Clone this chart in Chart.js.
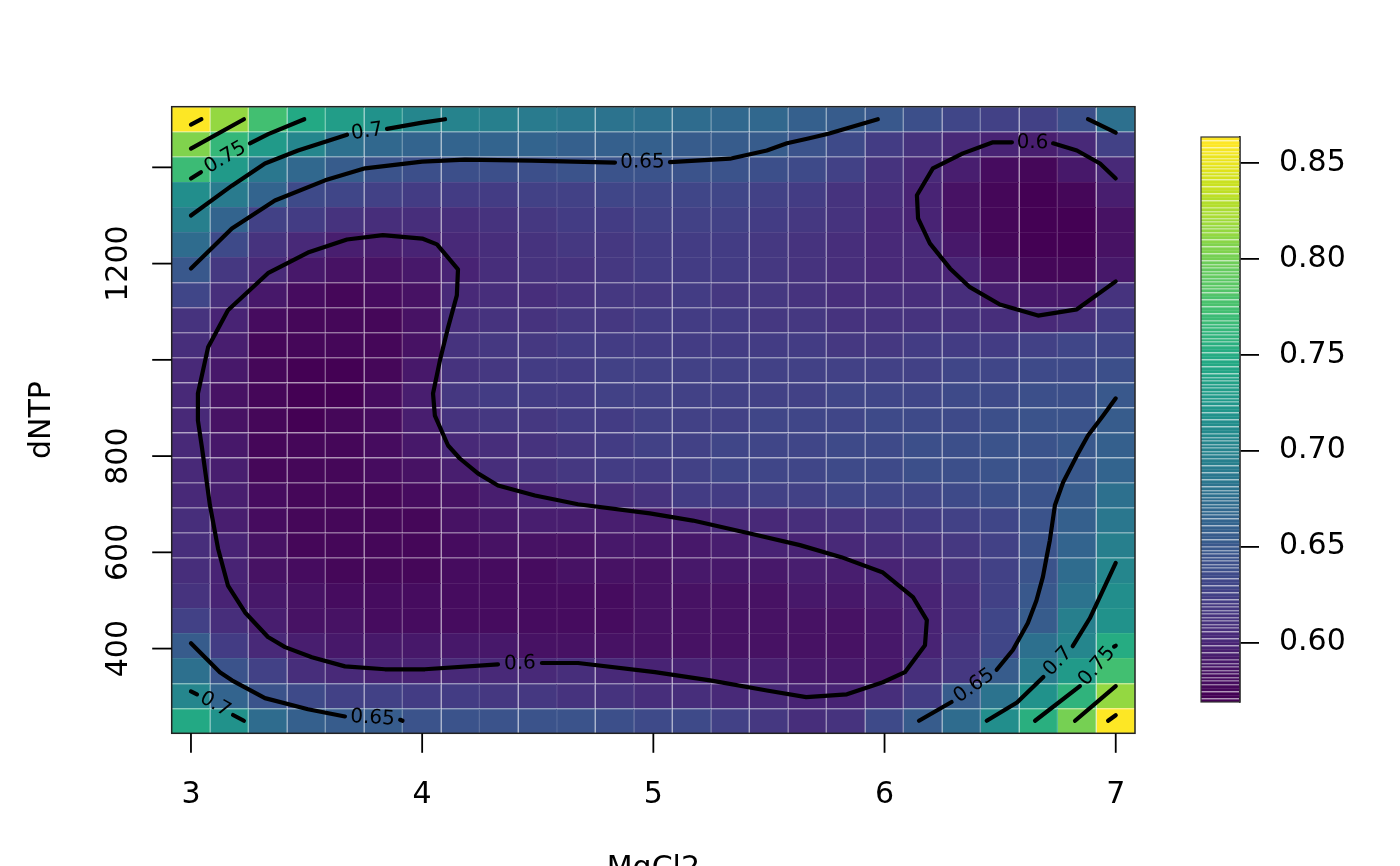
<!DOCTYPE html>
<html><head><meta charset="utf-8">
<script src="https://cdn.jsdelivr.net/npm/chart.js@4.4.1/dist/chart.umd.min.js"></script>
<style>
html,body{margin:0;padding:0;background:#fff;}
#wrap{position:relative;width:1400px;height:866px;overflow:hidden;background:#fff;}
#main{position:absolute;left:0;top:0;width:1400px;height:866px;}
#cb{position:absolute;left:1190px;top:0;width:210px;height:866px;}
</style></head><body>
<div id="wrap"><canvas id="main" width="1400" height="866"></canvas><canvas id="cb" width="210" height="866"></canvas></div>
<script>
// ---------------- data ----------------
const mgcl2 = [3, 3.1667, 3.3333, 3.5, 3.6667, 3.8333, 4, 4.1667, 4.3333, 4.5, 4.6667, 4.8333, 5,
  5.1667, 5.3333, 5.5, 5.6667, 5.8333, 6, 6.1667, 6.3333, 6.5, 6.6667, 6.8333, 7];
const dntp = [250, 302.08, 354.17, 406.25, 458.33, 510.42, 562.5, 614.58, 666.67, 718.75, 770.83, 822.92,
  875, 927.08, 979.17, 1031.25, 1083.33, 1135.42, 1187.5, 1239.58, 1291.67, 1343.75, 1395.83, 1447.92, 1500];
// response[j][i] : dntp[j], mgcl2[i]
const response = [
 [.748,.718,.671,.661,.6552,.652,.647,.646,.645,.644,.643,.641,.638,.634,.628,.619,.6095,.614,.634,.653,.672,.715,.754,.803,.8635],
 [.705,.662,.647,.638,.628,.627,.624,.621,.619,.617,.615,.613,.6095,.608,.6048,.6019,.5995,.6006,.6098,.620,.652,.681,.720,.760,.816],
 [.678,.645,.625,.610,.6023,.6009,.6009,.6025,.6044,.6053,.6063,.6024,.5995,.597,.595,.593,.591,.592,.592,.607,.619,.655,.689,.730,.776],
 [.652,.620,.604,.594,.590,.588,.588,.588,.588,.587,.586,.585,.586,.585,.584,.584,.585,.586,.588,.5995,.612,.632,.678,.703,.7515],
 [.627,.610,.593,.586,.583,.582,.582,.582,.582,.582,.582,.582,.583,.583,.583,.584,.585,.586,.590,.5996,.610,.632,.656,.694,.720],
 [.615,.6005,.590,.583,.580,.579,.579,.579,.580,.580,.581,.582,.583,.584,.585,.587,.588,.591,.5957,.601,.610,.6255,.6505,.6805,.713],
 [.609,.5985,.586,.580,.578,.577,.578,.579,.581,.582,.584,.585,.586,.588,.589,.591,.5924,.5964,.6004,.605,.613,.625,.647,.671,.7025],
 [.607,.597,.583,.577,.576,.576,.578,.580,.583,.585,.587,.589,.591,.592,.5925,.5984,.6004,.6036,.608,.613,.619,.628,.646,.6614,.695],
 [.606,.5953,.582,.578,.577,.578,.578,.583,.588,.594,.594,.595,.596,.5996,.604,.605,.608,.612,.617,.622,.627,.633,.645,.6593,.687],
 [.605,.5941,.579,.576,.576,.578,.580,.587,.594,.6001,.6032,.6066,.6127,.620,.623,.625,.627,.629,.631,.633,.636,.640,.645,.655,.679],
 [.604,.5929,.578,.575,.575,.579,.585,.5948,.6089,.613,.617,.621,.624,.627,.629,.631,.633,.635,.637,.639,.641,.643,.647,.6514,.665],
 [.6035,.591,.577,.574,.575,.580,.590,.6052,.610,.615,.619,.622,.625,.627,.629,.631,.633,.635,.637,.640,.642,.645,.647,.649,.657],
 [.603,.5863,.576,.573,.574,.580,.593,.6114,.616,.619,.622,.624,.626,.627,.628,.629,.630,.632,.634,.636,.638,.641,.644,.645,.654],
 [.603,.5863,.576,.573,.573,.579,.594,.6155,.620,.622,.624,.625,.626,.627,.628,.628,.628,.629,.631,.633,.635,.637,.639,.642,.6495],
 [.604,.5911,.577,.573,.573,.578,.591,.613,.619,.622,.624,.625,.626,.627,.627,.626,.625,.625,.626,.628,.630,.632,.634,.637,.640],
 [.607,.5921,.578,.574,.574,.577,.586,.611,.616,.618,.620,.622,.623,.624,.623,.622,.620,.619,.619,.620,.622,.624,.625,.630,.633],
 [.614,.597,.581,.576,.576,.578,.583,.6066,.611,.614,.617,.619,.621,.622,.621,.619,.616,.614,.613,.612,.612,.608,.603,.608,.622],
 [.630,.607,.5886,.579,.578,.579,.585,.6015,.606,.610,.614,.617,.619,.620,.619,.616,.612,.609,.607,.606,.606,.5957,.590,.589,.611],
 [.648,.617,.602,.588,.583,.584,.589,.6008,.606,.611,.615,.618,.620,.621,.620,.617,.613,.608,.604,.6035,.598,.583,.575,.574,.591],
 [.672,.634,.612,.605,.595,.594,.598,.603,.607,.612,.616,.619,.621,.622,.621,.618,.614,.609,.6045,.603,.588,.578,.571,.570,.585],
 [.6965,.662,.628,.623,.612,.609,.608,.609,.612,.616,.620,.623,.625,.626,.625,.622,.617,.611,.6055,.5985,.583,.574,.569,.571,.584],
 [.714,.690,.664,.636,.629,.627,.623,.622,.623,.625,.627,.629,.630,.630,.629,.626,.621,.614,.6075,.5986,.585,.576,.571,.574,.594],
 [.767,.728,.686,.670,.654,.6465,.641,.640,.641,.6426,.6438,.6458,.6462,.6463,.6463,.642,.636,.626,.613,.602,.593,.582,.578,.589,.603],
 [.805,.765,.729,.703,.677,.667,.665,.664,.663,.662,.661,.659,.658,.656,.654,.652,.645,.635,.622,.612,.604,.597,.596,.604,.627],
 [.862,.816,.774,.748,.733,.718,.7034,.698,.694,.690,.686,.682,.678,.674,.670,.666,.661,.656,.649,.640,.633,.628,.628,.640,.675]
];
const xTicks = [3, 4, 5, 6, 7];
const yTicks = [400, 600, 800, 1000, 1200, 1400];
const yTickLabelled = [400, 600, 800, 1200];
const legendTicks = [0.60, 0.65, 0.70, 0.75, 0.80, 0.85];

// contour lines, [MgCl2, dNTP]
const c85_tl = [[3.0,1489],[3.045,1500]];
const c85_br = [[6.967,250],[7.0,261.5]];
const c80_tl = [[3.0,1439],[3.229,1500]];
const c80_br = [[6.824,250],[7.0,322]];
const c75_tl_a = [[3.0,1377],[3.043,1390]];
const c75_tl_b = [[3.255,1450],[3.334,1469],[3.490,1500]];
const c75_br_a = [[6.651,250],[6.845,322]];
const c75_br_b = [[6.993,404],[7.0,406]];
const c70_tl_a = [[3.0,1300],[3.177,1362],[3.320,1408],[3.463,1435],[3.675,1468]];
const c70_tl_b = [[3.848,1480],[4.0,1493],[4.099,1500]];
const c70_bl_a = [[3.0,311],[3.026,305]];
const c70_bl_b = [[3.182,262],[3.229,250]];
const c70_br_a = [[6.442,250],[6.573,288],[6.687,341]];
const c70_br_b = [[6.814,405],[6.888,463],[7.0,578]];
const c65_top_a = [[3.0,1190],[3.177,1273],[3.363,1331],[3.580,1373],[3.753,1398],[4.0,1412],[4.185,1416],[4.475,1414],[4.834,1410]];
const c65_top_b = [[5.072,1411],[5.331,1418],[5.491,1435],[5.578,1450],[5.670,1460],[5.757,1470],[5.971,1500]];
const c65_tr = [[6.880,1500],[7.0,1472]];
const c65_bl_a = [[3.0,411],[3.125,351],[3.177,334],[3.320,297],[3.506,274],[3.666,259]];
const c65_bl_b = [[3.905,252],[3.915,250]];
const c65_br_a = [[6.149,250],[6.290,289]];
const c65_br_b = [[6.485,356],[6.555,397],[6.620,453],[6.657,500],[6.685,549],[6.701,590],[6.715,625],[6.737,698],[6.772,745],[6.832,801],[6.880,843],[6.945,884],[7.0,920]];
const c60_left = [[4.518,370],[4.674,370],[5.007,351],[5.245,334],[5.491,313],[5.661,299],[5.837,305],[5.993,330],[6.088,351],[6.175,407],[6.183,459],[6.123,507],[5.993,558],[5.813,590],[5.634,615],[5.418,639],[5.171,666],[4.985,681],[4.674,700],[4.488,718],[4.328,739],[4.241,764],[4.163,795],[4.112,822],[4.055,884],[4.047,930],[4.077,999],[4.112,1067],[4.150,1134],[4.155,1188],[4.064,1240],[4.0,1252],[3.830,1259],[3.675,1250],[3.506,1223],[3.333,1180],[3.160,1103],[3.074,1026],[3.030,930],[3.030,874],[3.048,816],[3.082,698],[3.117,608],[3.160,531],[3.234,475],[3.333,424],[3.407,403],[3.523,382],[3.666,363],[3.839,357],[4.012,357],[4.328,367]];
const c60_right_a = [[7.0,1377],[6.932,1408],[6.832,1435],[6.729,1450]];
const c60_right_b = [[6.551,1452],[6.469,1452],[6.339,1429],[6.209,1398],[6.140,1342],[6.145,1294],[6.196,1242],[6.283,1190],[6.369,1151],[6.499,1115],[6.664,1092],[6.832,1105],[7.0,1163]];

const contourPieces = [c85_tl,c85_br,c80_tl,c80_br,c75_tl_a,c75_tl_b,c75_br_a,c75_br_b,c70_tl_a,c70_tl_b,c70_bl_a,c70_bl_b,
  c70_br_a,c70_br_b,c65_top_a,c65_top_b,c65_tr,c65_bl_a,c65_bl_b,c65_br_a,c65_br_b,c60_left,c60_right_a,c60_right_b];
// contour labels sit in the gap between the end of one piece and the start of the next
const contourLabels = [
  {level:0.75, from:c75_tl_a, to:c75_tl_b}, {level:0.7, from:c70_tl_a, to:c70_tl_b},
  {level:0.65, from:c65_top_a, to:c65_top_b}, {level:0.6, from:c60_right_a, to:c60_right_b},
  {level:0.6, from:c60_left, to:c60_left}, {level:0.65, from:c65_bl_a, to:c65_bl_b},
  {level:0.7, from:c70_bl_a, to:c70_bl_b}, {level:0.65, from:c65_br_a, to:c65_br_b},
  {level:0.7, from:c70_br_a, to:c70_br_b}, {level:0.75, from:c75_br_a, to:c75_br_b}
];

// ---------------- styling helpers ----------------
const FONT = '"DejaVu Sans", sans-serif';
const VIR_T = [0,0.05,0.1,0.125,0.1667,0.2,0.25,0.3,0.3333,0.375,0.4,0.5,0.6,0.625,0.6667,0.7,0.75,0.8,0.8333,0.875,0.9,0.95,1];
const VIR_C = ['#440154','#471365','#482576','#472D7B','#443A83','#414487','#3B528B','#35608D','#31688E','#2C728E','#2A788E','#21908C','#22A884','#27AD81','#35B779','#43BF71','#5DC863','#7AD151','#8FD744','#AADC32','#BBDF27','#DFE318','#FDE725'];
const hex2rgb = h => [parseInt(h.slice(1,3),16),parseInt(h.slice(3,5),16),parseInt(h.slice(5,7),16)];
const VIR_RGB = VIR_C.map(hex2rgb);
function viridis(t){
  t = Math.max(0, Math.min(1, t));
  let k = 0; while (k < VIR_T.length-2 && t > VIR_T[k+1]) k++;
  const f = (t - VIR_T[k])/(VIR_T[k+1]-VIR_T[k]);
  const a = VIR_RGB[k], b = VIR_RGB[k+1];
  return a.map((v,i)=>Math.round(v + (b[i]-v)*f));
}
const allZ = response.flat();
const zmin = Math.min(...allZ), zmax = Math.max(...allZ);
const NCOL = 64;
function zRGB(z){ const idx = Math.min(NCOL-1, Math.max(0, Math.floor((z-zmin)/(zmax-zmin)*NCOL))); return viridis(idx/(NCOL-1)); }
const rgbStr = c => `rgb(${c[0]},${c[1]},${c[2]})`;
const seam = (c,f) => rgbStr(c.map(v=>Math.round(v + (255-v)*f)));
function edges(v){ const e=[]; for(let i=0;i<=v.length;i++){ if(i===0) e.push(v[0]-(v[1]-v[0])/2); else if(i===v.length) e.push(v[i-1]+(v[i-1]-v[i-2])/2); else e.push((v[i-1]+v[i])/2);} return e; }
const xE = edges(mgcl2), yE = edges(dntp);

// ---------------- main chart ----------------
const heatSets = dntp.map((y,j)=>({
  type:'bar', order:2, grouped:false, barPercentage:1, categoryPercentage:1,
  data: mgcl2.map(x=>({x:x, y:[yE[j], yE[j+1]]})),
  backgroundColor: response[j].map(z=>rgbStr(zRGB(z))),
  borderColor: response[j].map(z=>seam(zRGB(z),0.08)),
  borderWidth:{top:1,right:1,bottom:0,left:0}, borderSkipped:false, inflateAmount:0
}));
const lineSets = contourPieces.map(p=>({
  type:'line', order:1, data:p.map(([x,y])=>({x,y})), borderColor:'#000', borderWidth:4.2,
  pointRadius:0, tension:0, fill:false, borderCapStyle:'round', borderJoinStyle:'round'
}));

const decor = {
  id:'decor',
  afterDatasetsDraw(chart){
    const {ctx, chartArea:a, scales:{x, y}} = chart;
    ctx.save();
    // contour labels
    ctx.fillStyle = '#000'; ctx.font = '20px ' + FONT; ctx.textAlign='center'; ctx.textBaseline='middle';
    contourLabels.forEach(l=>{
      const A = l.from[l.from.length-1], B = l.to[0];
      const ax = x.getPixelForValue(A[0]), ay = y.getPixelForValue(A[1]);
      const bx = x.getPixelForValue(B[0]), by = y.getPixelForValue(B[1]);
      let ang = Math.atan2(by-ay, bx-ax);
      if (ang > Math.PI/2) ang -= Math.PI; if (ang < -Math.PI/2) ang += Math.PI;
      ctx.save(); ctx.translate((ax+bx)/2, (ay+by)/2); ctx.rotate(ang);
      ctx.fillText(String(l.level), 0, 0); ctx.restore();
    });
    // box
    ctx.strokeStyle='#222'; ctx.lineWidth=1.5;
    ctx.strokeRect(a.left, a.top, a.right-a.left, a.bottom-a.top);
    // x axis
    ctx.strokeStyle='#000'; ctx.lineWidth=1.8; ctx.fillStyle='#000';
    ctx.font = '30px ' + FONT; ctx.textAlign='center'; ctx.textBaseline='alphabetic';
    xTicks.forEach(v=>{
      const px = x.getPixelForValue(v);
      ctx.beginPath(); ctx.moveTo(px, a.bottom); ctx.lineTo(px, a.bottom+19.5); ctx.stroke();
      ctx.fillText(String(v), px, a.bottom+69.5);
    });
    ctx.fillText('MgCl2', (a.left+a.right)/2, a.bottom+144);
    // y axis
    yTicks.forEach(v=>{
      const py = y.getPixelForValue(v);
      ctx.beginPath(); ctx.moveTo(a.left-19.5, py); ctx.lineTo(a.left, py); ctx.stroke();
      if (yTickLabelled.includes(v)) {
        ctx.save(); ctx.translate(a.left-45, py); ctx.rotate(-Math.PI/2);
        ctx.fillText(String(v), 0, 0); ctx.restore();
      }
    });
    ctx.save(); ctx.translate(50, (a.top+a.bottom)/2); ctx.rotate(-Math.PI/2);
    ctx.fillText('dNTP', 0, 0); ctx.restore();
    ctx.restore();
  }
};

new Chart(document.getElementById('main'), {
  type:'bar',
  data:{ datasets:[...heatSets, ...lineSets] },
  options:{
    responsive:false, devicePixelRatio:1, animation:false, events:[],
    layout:{ padding:{ left:171.7, right:265, top:106.7, bottom:132.7 } },
    plugins:{ legend:{display:false}, tooltip:{enabled:false} },
    scales:{
      x:{ type:'linear', display:false, offset:false, min:xE[0], max:xE[xE.length-1],
          afterBuildTicks:s=>{ s.ticks = xTicks.map(v=>({value:v})); } },
      y:{ type:'linear', display:false, min:yE[0], max:yE[yE.length-1],
          afterBuildTicks:s=>{ s.ticks = yTicks.map(v=>({value:v})); } }
    }
  },
  plugins:[decor]
});

// ---------------- colour legend ----------------
const NSTRIPE = 160;
const cbSets = [];
for (let k=0;k<NSTRIPE;k++){
  const lo = zmin + (zmax-zmin)*k/NSTRIPE, hi = zmin + (zmax-zmin)*(k+1)/NSTRIPE;
  const c = zRGB((lo+hi)/2);
  cbSets.push({ data:[[lo,hi]], backgroundColor:rgbStr(c), borderColor:seam(c,0.1),
    borderWidth:{top:1,right:0,bottom:0,left:0}, borderSkipped:false, grouped:false,
    barPercentage:1, categoryPercentage:1, inflateAmount:0 });
}
const cbBox = {
  id:'cbBox',
  afterDatasetsDraw(chart){
    const {ctx, chartArea:a} = chart;
    ctx.save(); ctx.strokeStyle='#333'; ctx.lineWidth=1.2;
    ctx.strokeRect(a.left, a.top, a.right-a.left, a.bottom-a.top); ctx.restore();
  }
};
new Chart(document.getElementById('cb'), {
  type:'bar',
  data:{ labels:[''], datasets:cbSets },
  options:{
    responsive:false, devicePixelRatio:1, animation:false, events:[],
    layout:{ padding:{ left:11, right:0, top:137, bottom:164 } },
    plugins:{ legend:{display:false}, tooltip:{enabled:false} },
    scales:{
      x:{ display:false },
      y:{ position:'right', min:zmin, max:zmax,
          afterBuildTicks:s=>{ s.ticks = legendTicks.map(v=>({value:v})); },
          afterFit:s=>{ s.width = 160; },
          ticks:{ callback:v=>Number(v).toFixed(2), font:{family:FONT, size:30}, color:'#000', padding:20 },
          grid:{ drawOnChartArea:false, color:'#000', tickColor:'#000', tickLength:19, tickWidth:1.8, lineWidth:1.8 },
          border:{ display:true, color:'#000', width:1.5 } }
    }
  },
  plugins:[cbBox]
});
</script>
</body></html>
